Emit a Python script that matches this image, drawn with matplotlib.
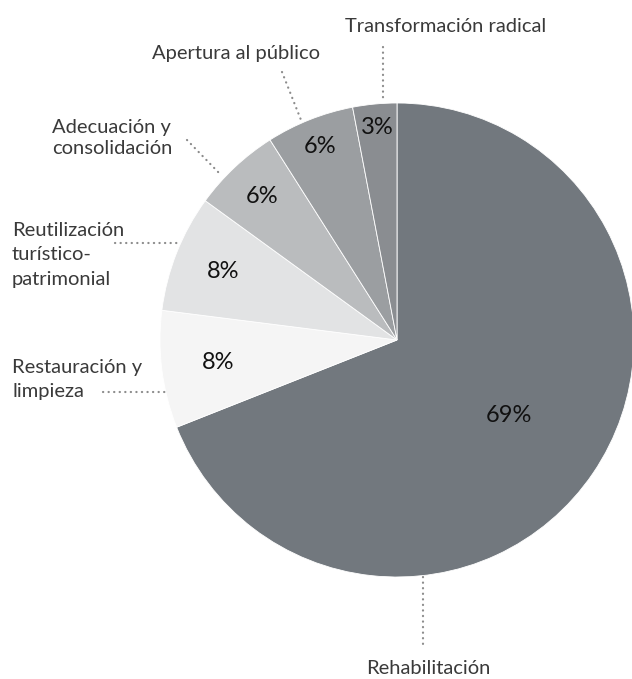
import matplotlib.pyplot as plt
import numpy as np

# Slice data, clockwise from the top
categories = ['Rehabilitación', 'Restauración y\nlimpieza', 'Reutilización\nturístico-\npatrimonial',
              'Adecuación y\nconsolidación', 'Apertura al público', 'Transformación radical']
shares = [69, 8, 8, 6, 6, 3]
pct_labels = ['69%', '8%', '8%', '6%', '6%', '3%']
colors = ['#72787e', '#f5f5f5', '#e2e3e4', '#babcbe', '#9b9ea1', '#8a8d91']

W, H = 632, 679
cx, cy, R = 397, H - 340, 237

plt.rcParams['font.family'] = ['Lato', 'DejaVu Sans']

fig = plt.figure(figsize=(W / 100, H / 100), dpi=100)
ax = fig.add_axes([0, 0, 1, 1])

wedges, _ = ax.pie(shares, colors=colors, startangle=90, counterclock=False,
                   center=(cx, cy), radius=R, frame=True,
                   wedgeprops=dict(edgecolor='white', linewidth=0.6))
ax.set_xlim(0, W)
ax.set_ylim(0, H)
ax.axis('off')

# percentage labels placed along each wedge's mid angle
pct_radius = [0.57, 0.76, 0.79, 0.83, 0.88, 0.90]
for w, lab, fr in zip(wedges, pct_labels, pct_radius):
    ang = np.deg2rad((w.theta1 + w.theta2) / 2)
    ax.text(cx + fr * R * np.cos(ang), cy + fr * R * np.sin(ang), lab,
            ha='center', va='center', fontsize=17, color='#111111')

# outer labels: (text x, text y, ha, line spacing, leader start, leader end) in pixel layout
outer = [
    (428, 668, 'center', 1.4, (423, 577), (423, 645)),
    (12, 380, 'left', 1.5, (103, 392), (167, 392)),
    (12, 255, 'left', 1.55, (115, 243), (178, 243)),
    (52, 138, 'left', 1.35, (187, 140), (221, 175)),
    (236, 54, 'center', 1.4, (282, 72), (301, 120)),
    (446, 27, 'center', 1.4, (383, 47), (383, 100)),
]
for name, (tx, ty, ha, ls, p0, p1) in zip(categories, outer):
    ax.text(tx, H - ty, name, ha=ha, va='center', fontsize=14.5, color='#3a3a3a',
            linespacing=ls)
    ax.plot([p0[0], p1[0]], [H - p0[1], H - p1[1]], color='#8c8c8c', linestyle=(0, (0.1, 2.4)),
            linewidth=1.6, dash_capstyle='round')

fig.savefig('out.png', dpi=100)
